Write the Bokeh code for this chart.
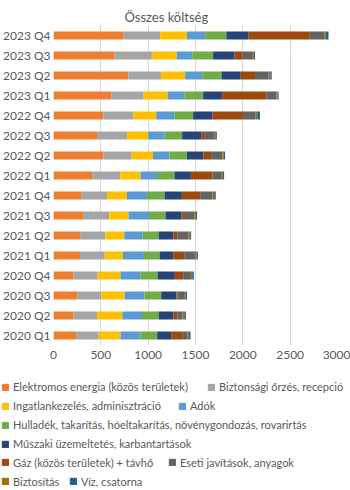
from bokeh.plotting import figure
from bokeh.models import ColumnDataSource, Range1d, FactorRange, FixedTicker, Legend, LegendItem
from bokeh.embed import file_html
from bokeh.resources import INLINE

quarters = ["2020 Q1", "2020 Q2", "2020 Q3", "2020 Q4",
            "2021 Q1", "2021 Q2", "2021 Q3", "2021 Q4",
            "2022 Q1", "2022 Q2", "2022 Q3", "2022 Q4",
            "2023 Q1", "2023 Q2", "2023 Q3", "2023 Q4"]

series_names = ["Elektromos energia (közös területek)", "Biztonsági őrzés, recepció",
                "Ingatlankezelés, adminisztráció", "Adók",
                "Hulladék, takarítás, hóeltakarítás, növénygondozás, rovarirtás",
                "Műszaki üzemeltetés, karbantartások",
                "Gáz (közös területek) + távhő", "Eseti javítások, anyagok",
                "Biztosítás", "Víz, csatorna"]

elektromos = [239, 211, 253, 211, 281, 288, 313, 292, 414, 527, 460, 527, 611, 793, 646, 741]
biztonsagi = [238, 249, 253, 256, 260, 260, 277, 274, 292, 298, 317, 316, 341, 342, 394, 386]
ingatlan   = [232, 267, 246, 242, 193, 200, 203, 210, 214, 226, 224, 242, 253, 256, 263, 281]
adok       = [211, 208, 210, 208, 221, 193, 215, 211, 173, 175, 172, 193, 176, 179, 162, 194]
hulladek   = [176, 175, 176, 182, 165, 169, 175, 186, 185, 183, 186, 197, 200, 204, 221, 224]
muszaki    = [147, 155, 161, 183, 145, 155, 169, 183, 173, 175, 201, 204, 200, 204, 224, 236]
gaz        = [116, 42, 11, 88, 115, 42, 25, 193, 228, 81, 39, 323, 467, 151, 89, 646]
eseti      = [53, 56, 77, 81, 113, 119, 112, 130, 91, 119, 95, 134, 105, 144, 98, 151]
biztositas = [18, 18, 12, 14, 18, 18, 15, 18, 18, 15, 17, 17, 15, 17, 18, 18]
viz        = [17, 17, 11, 17, 14, 10, 13, 17, 14, 13, 14, 28, 10, 15, 14, 28]

x_ticks = [0, 500, 1000, 1500, 2000, 2500, 3000]

colors = ["#ED7D31", "#A5A5A5", "#FFC000", "#5B9BD5", "#70AD47",
          "#264478", "#9E480E", "#636363", "#997300", "#255E91"]

keys = ["s%d" % i for i in range(10)]
data = {"q": quarters}
for k, vals in zip(keys, [elektromos, biztonsagi, ingatlan, adok, hulladek,
                          muszaki, gaz, eseti, biztositas, viz]):
    data[k] = vals
source = ColumnDataSource(data)

FONT = "Lato"
TXT = "#595959"

p = figure(width=350, height=370, y_range=FactorRange(*quarters),
           x_range=Range1d(0, 3000), output_backend="svg", toolbar_location=None,
           min_border_left=52, min_border_right=13, min_border_top=25,
           min_border_bottom=25, title="Összes költség")
p.title.align = "left"
p.title.offset = 71
p.title.standoff = 2
p.title.text_font = FONT
p.title.text_font_size = "13px"
p.title.text_font_style = "normal"
p.title.text_color = TXT

renderers = p.hbar_stack(keys, y="q", height=0.4, color=colors, source=source,
                         line_color=None)

p.outline_line_color = None
p.ygrid.grid_line_color = None
p.xgrid.grid_line_color = "#D9D9D9"
p.xaxis.ticker = FixedTicker(ticks=x_ticks)
for ax in (p.xaxis[0], p.yaxis[0]):
    ax.axis_line_color = None
    ax.major_tick_line_color = None
    ax.minor_tick_line_color = None
    ax.major_tick_out = 0
    ax.major_tick_in = 0
    ax.minor_tick_out = 0
    ax.minor_tick_in = 0
    ax.major_label_text_font = FONT
    ax.major_label_text_font_size = "12px"
    ax.major_label_text_color = TXT
p.yaxis.major_label_standoff = 3
p.xaxis.major_label_standoff = 5

# legend figure (separate root, so its frame is not aligned with the chart's)
LH = 120
p2 = figure(width=350, height=LH, x_range=Range1d(0, 350), y_range=Range1d(0, LH),
            output_backend="svg", toolbar_location=None,
            min_border_left=0, min_border_right=0, min_border_top=0, min_border_bottom=0)
p2.axis.visible = False
p2.grid.grid_line_color = None
p2.outline_line_color = None

positions = [(1, 0), (207, 0), (1, 1), (178, 1), (1, 2), (1, 3),
             (1, 4), (168, 4), (1, 5), (69, 5)]
row0 = 16.3
row_step = 18.9
h = 14
for name, c, (xa, row) in zip(series_names, colors, positions):
    # off-screen swatch renderer, used only to draw the legend square
    dummy = p2.quad(left=[-50], right=[-40], top=[-40], bottom=[-50], color=c)
    yc = row0 + row * row_step
    leg = Legend(items=[LegendItem(label=name, renderers=[dummy])],
                 location=(xa, LH - (yc + h / 2)),
                 orientation="horizontal", padding=0, margin=0, spacing=0,
                 glyph_width=8, glyph_height=8, label_height=8, label_standoff=4,
                 border_line_color=None, background_fill_alpha=0,
                 label_text_font=FONT, label_text_font_size="11px",
                 label_text_color=TXT)
    p2.add_layout(leg, "center")

open("out.html", "w").write(file_html([p, p2], INLINE))
